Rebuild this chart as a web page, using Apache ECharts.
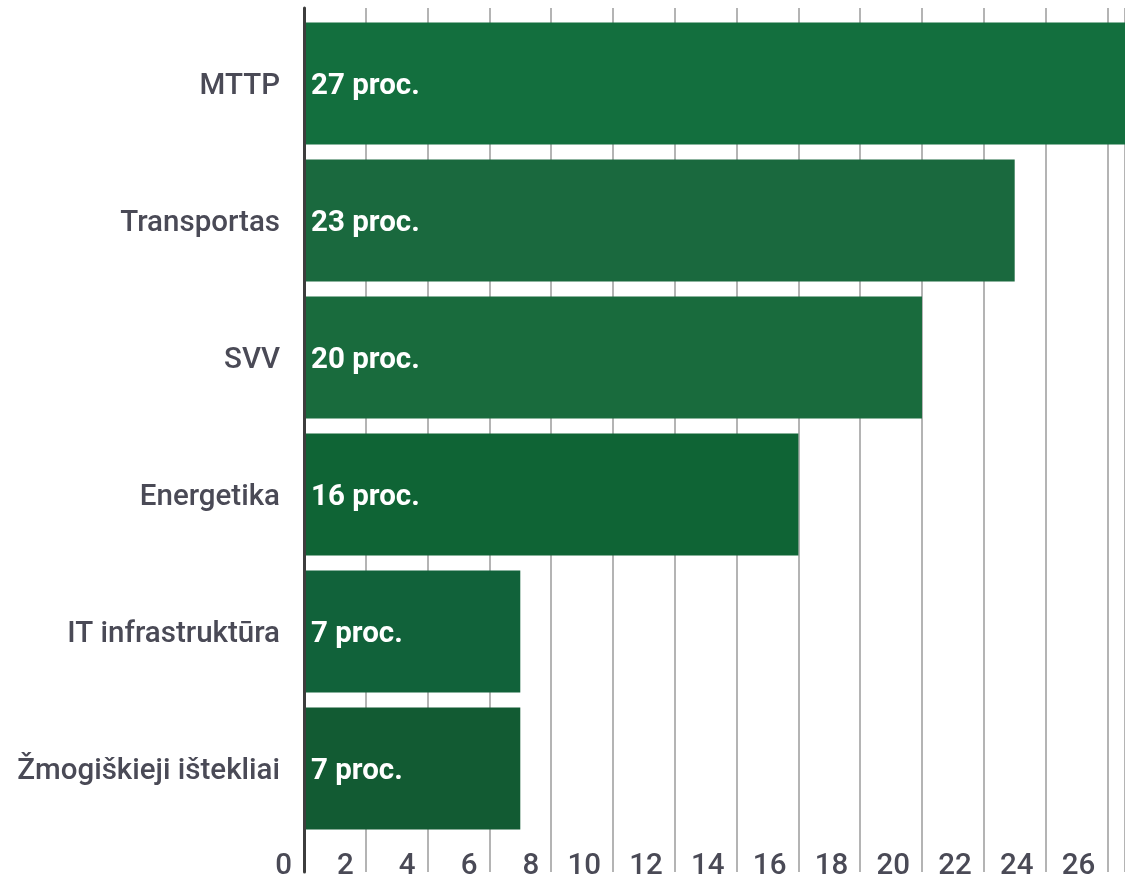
<!DOCTYPE html>
<html>
<head>
<meta charset="utf-8">
<title>proc.</title>
<script src="https://cdn.jsdelivr.net/npm/echarts@6/dist/echarts.min.js"></script>
<style>
html, body { margin: 0; padding: 0; background: #fff; }
#chart { width: 1125px; height: 882px; }
</style>
</head>
<body>
<div id="chart"></div>
<script>
// duomenys
var categories = ['MTTP', 'Transportas', 'SVV', 'Energetika', 'IT infrastruktūra', 'Žmogiškieji ištekliai']
var values = [27, 23, 20, 16, 7, 7]
var barColors = ['#136f3e', '#1a693e', '#196b3d', '#0f6435', '#11623a', '#125b33']
var xMin = 0
var xMax = 26.57
var xStep = 2

var labelColor = '#4a4a56'
var font = 'Roboto, "Noto Sans", sans-serif'
var textStyle = {
  color: labelColor,
  fontFamily: font,
  fontSize: 29.5,
  fontWeight: 500
}

var myChart = echarts.init(document.getElementById('chart'))
var option = {
  animation: false,
  grid: [
    // fonas: tinklelis ir ašis per visą aukštį
    { left: 304, right: 0, top: 8, bottom: 0 },
    // stulpeliai
    { left: 304, right: 0, top: 15, bottom: 45 }
  ],
  xAxis: [
    {
      type: 'value',
      gridIndex: 0,
      min: xMin,
      max: xMax,
      interval: xStep,
      axisLine: { show: false },
      axisTick: { show: false },
      splitLine: { show: true, lineStyle: { color: '#b4b4b4', width: 2 } },
      axisLabel: {
        inside: true,
        margin: 0,
        showMaxLabel: false,
        align: 'right',
        formatter: function (v) { return '{t|' + v + '}' },
        rich: {
          t: Object.assign({ padding: [0, 12, 0, 0], lineHeight: 10 }, textStyle)
        }
      }
    },
    {
      type: 'value',
      gridIndex: 1,
      min: xMin,
      max: xMax,
      interval: xStep,
      show: false
    }
  ],
  yAxis: [
    {
      type: 'value',
      gridIndex: 0,
      z: 5,
      axisLine: { show: true, lineStyle: { color: '#3d3d3d', width: 3 } },
      axisTick: { show: false },
      axisLabel: { show: false },
      splitLine: { show: false }
    },
    {
      type: 'category',
      gridIndex: 1,
      inverse: true,
      data: categories,
      axisLine: { show: false },
      axisTick: { show: false },
      axisLabel: {
        margin: 24,
        formatter: function (v) { return '{t|' + v + '}' },
        rich: {
          t: Object.assign({ padding: [7, 0, 0, 0] }, textStyle)
        }
      }
    }
  ],
  series: [
    {
      type: 'bar',
      xAxisIndex: 1,
      yAxisIndex: 1,
      barWidth: 122,
      data: values.map(function (v, i) {
        return { value: v, itemStyle: { color: barColors[i] } }
      }),
      label: {
        show: true,
        position: 'insideLeft',
        distance: 7,
        offset: [0, 3],
        formatter: '{c} proc.',
        color: '#fff',
        fontFamily: font,
        fontSize: 29.5,
        fontWeight: 'bold'
      }
    }
  ]
}
myChart.setOption(option)
</script>
</body>
</html>
